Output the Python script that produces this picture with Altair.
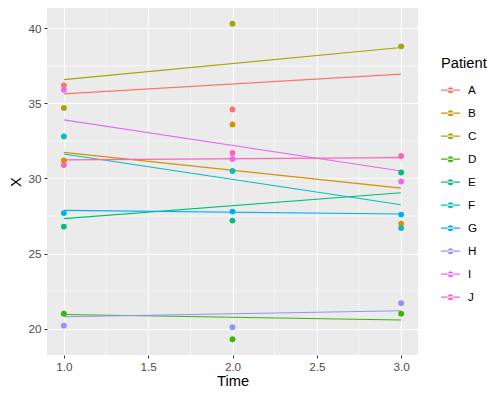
import altair as alt
import pandas as pd

patients = ["A", "B", "C", "D", "E", "F", "G", "H", "I", "J"]
colors = ["#F8766D", "#D89000", "#A3A500", "#39B600", "#00BF7D",
          "#00BFC4", "#00B0F6", "#9590FF", "#E76BF3", "#FF62BC"]

times = [1, 2, 3]
obs_t1 = [36.2, 31.2, 34.7, 21.0, 26.8, 32.8, 27.7, 20.2, 35.9, 30.9]
obs_t2 = [34.6, 33.6, 40.3, 19.3, 27.2, 30.5, 27.8, 20.1, 31.3, 31.7]
obs_t3 = [None, 27.0, 38.8, 21.0, 30.4, 26.7, 27.6, 21.7, 29.8, 31.5]

fit_t1 = [35.63, 31.74, 36.58, 20.95, 27.33, 31.63, 27.88, 20.80, 33.90, 31.24]
fit_t3 = [36.95, 29.36, 38.72, 20.58, 29.05, 28.25, 27.64, 21.20, 30.50, 31.39]

minor_x = [1.25, 1.75, 2.25, 2.75]
minor_y = [22.5, 27.5, 32.5, 37.5]

rows = []
for i, p in enumerate(patients):
    for t, vals in zip(times, [obs_t1, obs_t2, obs_t3]):
        if vals[i] is not None:
            rows.append({"Patient": p, "Time": t, "X": vals[i]})
obs = pd.DataFrame(rows)

frows = []
for i, p in enumerate(patients):
    frows.append({"Patient": p, "Time": 1, "X": fit_t1[i]})
    frows.append({"Patient": p, "Time": 3, "X": fit_t3[i]})
fit = pd.DataFrame(frows)

xscale = alt.Scale(domain=[0.9, 3.1], nice=False, zero=False)
yscale = alt.Scale(domain=[18.25, 41.35], nice=False, zero=False)
cscale = alt.Scale(domain=patients, range=colors)

sym_path = ("M-1,-0.07H1V0.07H-1Z "
            "M-0.32,0A0.32,0.32,0,1,0,0.32,0A0.32,0.32,0,1,0,-0.32,0Z")

legend = alt.Legend(
    title="Patient", orient="none", legendX=394, legendY=48,
    symbolType=sym_path, symbolSize=361, symbolStrokeWidth=0,
    symbolOpacity=1, labelOffset=8, rowPadding=6, titlePadding=10,
    padding=0,
)

xaxis = alt.Axis(values=[1.0, 1.5, 2.0, 2.5, 3.0], format=".1f", title="Time")
yaxis = alt.Axis(values=[20, 25, 30, 35, 40], title="X")

minor_v = alt.Chart(pd.DataFrame({"m": minor_x})).mark_rule(
    color="white", strokeWidth=0.55).encode(x=alt.X("m:Q", scale=xscale, axis=xaxis))
minor_h = alt.Chart(pd.DataFrame({"m": minor_y})).mark_rule(
    color="white", strokeWidth=0.55).encode(y=alt.Y("m:Q", scale=yscale, axis=yaxis))

lines = alt.Chart(fit).mark_line(strokeWidth=1.1).encode(
    x=alt.X("Time:Q", scale=xscale, axis=xaxis),
    y=alt.Y("X:Q", scale=yscale, axis=yaxis),
    color=alt.Color("Patient:N", scale=cscale, legend=legend),
    detail="Patient:N",
)
points = alt.Chart(obs).mark_circle(size=34, opacity=1).encode(
    x=alt.X("Time:Q", scale=xscale, axis=xaxis),
    y=alt.Y("X:Q", scale=yscale, axis=yaxis),
    color=alt.Color("Patient:N", scale=cscale, legend=legend),
)

chart = alt.layer(minor_v, minor_h, lines, points).properties(
    width=371, height=347,
    autosize=alt.AutoSizeParams(type="none"),
    padding={"left": 39, "top": 0, "right": 74, "bottom": 35},
).configure_view(
    fill="#EBEBEB", stroke=None
).configure_axis(
    domain=False, grid=True, gridColor="white", gridWidth=1.1,
    tickColor="#333333", tickSize=3, tickWidth=1,
    labelFont="Liberation Sans", labelFontSize=11.7, labelColor="#4D4D4D",
    labelPadding=3,
    titleFont="Liberation Sans", titleFontSize=14.7, titleColor="black",
    titleFontWeight="normal",
).configure_axisX(titlePadding=1).configure_axisY(titlePadding=4).configure_legend(
    titleFont="Liberation Sans", titleFontSize=14.7, titleColor="black",
    titleFontWeight="normal",
    labelFont="Liberation Sans", labelFontSize=11.7, labelColor="black",
)

chart.save("out.html", embed_options={"renderer": "svg", "actions": False})
